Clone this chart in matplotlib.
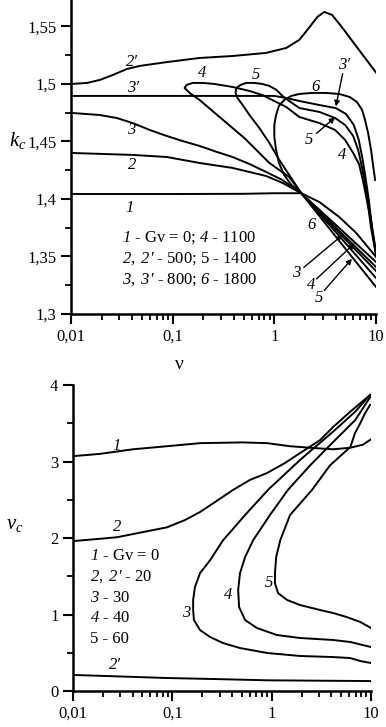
import numpy as np
import matplotlib
matplotlib.use("Agg")
import matplotlib.pyplot as plt
from matplotlib.ticker import FixedLocator, FixedFormatter, NullFormatter

plt.rcParams['font.family'] = ['Liberation Serif', 'DejaVu Serif']
plt.rcParams['mathtext.fontset'] = 'custom'
plt.rcParams['mathtext.rm'] = 'Liberation Serif'
plt.rcParams['mathtext.it'] = 'Liberation Serif:italic'
plt.rcParams['mathtext.sf'] = 'Liberation Serif:italic'

# ---------------- top panel data: k_c vs nu ----------------
nu_1 = [0.01, 0.1, 0.5, 1.0, 1.84, 2.77, 4.35, 6.4, 10.0]
k_1 = [1.4043, 1.4043, 1.4045, 1.405, 1.405, 1.3974, 1.3843, 1.3704, 1.3496]

nu_2 = [0.0102, 0.0405, 0.0873, 0.184, 0.388, 0.83, 1.2, 1.84, 4.35, 10.0]
k_2 = [1.44, 1.4383, 1.4365, 1.4313, 1.427, 1.42, 1.414, 1.405, 1.3748, 1.3452]

nu_3 = [0.0102, 0.0192, 0.0282, 0.0405, 0.0595, 0.0873, 0.125, 0.184, 0.27, 0.388, 0.57, 0.83, 1.2,
        1.84, 4.35, 10.0]
k_3 = [1.4748, 1.473, 1.4704, 1.466, 1.46, 1.4548, 1.4504, 1.4461, 1.441, 1.4365, 1.4304, 1.4235, 1.4165,
       1.405, 1.3722, 1.3409]

nu_2p = [0.01, 0.0144, 0.0192, 0.0258, 0.0354, 0.0475, 0.0873, 0.184, 0.388, 0.83, 1.31, 1.76, 2.2, 2.65,
         3.1, 3.7, 4.6, 6.8, 10.0]
k_2p = [1.5, 1.5009, 1.5035, 1.5078, 1.513, 1.5157, 1.519, 1.5226, 1.5243, 1.527, 1.5313, 1.5383, 1.549,
        1.5583, 1.5626, 1.56, 1.5496, 1.5296, 1.51]

nu_3p = [0.01, 0.1, 0.5, 1.0, 1.31, 1.76, 2.77, 4.03, 5.07, 6.05, 6.77, 7.4, 7.95, 8.5, 9.1, 10.0]
k_3p = [1.4896, 1.4896, 1.4896, 1.4896, 1.4878, 1.4852, 1.4817, 1.479, 1.4739, 1.4643, 1.4513, 1.434,
        1.4165, 1.399, 1.377, 1.3539]

nu_4 = [10.0, 4.35, 1.84, 1.40, 0.894, 0.507, 0.289, 0.184, 0.147, 0.131, 0.137, 0.157, 0.197, 0.258,
        0.388, 0.57, 0.76, 1.31, 1.76, 2.77, 3.96, 4.97, 5.96, 6.81, 7.46, 8.17, 8.94, 10.0]
k_4 = [1.3374, 1.3704, 1.405, 1.4191, 1.4313, 1.453, 1.4713, 1.4861, 1.4922, 1.4965, 1.4991, 1.5009, 1.5009,
       1.50, 1.4974, 1.4939, 1.4904, 1.48, 1.4713, 1.466, 1.46, 1.4513, 1.44, 1.4304, 1.4157, 1.398, 1.3809,
       1.3513]

nu_5 = [10.0, 4.35, 1.84, 1.40, 1.12, 0.894, 0.712, 0.57, 0.488, 0.434, 0.415, 0.424, 0.464, 0.53, 0.636,
        0.76, 0.894, 1.05, 1.2, 1.40, 1.76, 2.77, 3.96, 4.97, 5.96, 6.68, 7.3, 7.8, 8.36, 8.94, 10.0]
k_5 = [1.3313, 1.3678, 1.405, 1.4209, 1.4339, 1.4487, 1.4617, 1.473, 1.4817, 1.4878, 1.4922, 1.4965, 1.4991,
       1.5009, 1.5009, 1.50, 1.4983, 1.4948, 1.4896, 1.4852, 1.4791, 1.4757, 1.4704, 1.4643, 1.4548, 1.4426,
       1.427, 1.4122, 1.3948, 1.3748, 1.3513]

nu_6 = [10.0, 4.35, 1.84, 1.47, 1.25, 1.11, 1.04, 1.0, 1.0, 1.04, 1.11, 1.25, 1.47, 1.76, 2.36, 3.22, 4.35,
        5.5, 6.5, 7.3, 7.8, 8.36, 8.94, 9.35, 9.8]
k_6 = [1.3235, 1.3635, 1.405, 1.4122, 1.4209, 1.4313, 1.4426, 1.4539, 1.4643, 1.473, 1.4809, 1.4861, 1.4896,
       1.4913, 1.4922, 1.4922, 1.4913, 1.4887, 1.4843, 1.4774, 1.4687, 1.4574, 1.4426, 1.4296, 1.4165]

top_curves = [(nu_1, k_1), (nu_2, k_2), (nu_3, k_3), (nu_2p, k_2p), (nu_3p, k_3p),
              (nu_4, k_4), (nu_5, k_5), (nu_6, k_6)]

k_ticks = [1.3, 1.35, 1.4, 1.45, 1.5, 1.55]
k_ticklabels = ['1,3', '1,35', '1,4', '1,45', '1,5', '1,55']
nu_ticks = [0.01, 0.1, 1, 10]
nu_ticklabels = ['0,01', '0,1', '1', '10']

# ---------------- bottom panel data: nu_c vs nu ----------------
vb_1 = [0.01, 0.0187, 0.0402, 0.0886, 0.19, 0.51, 0.9, 1.53, 2.44, 4.15, 6.17, 8.3, 10.0]
vc_1 = [3.07, 3.1, 3.16, 3.2, 3.24, 3.25, 3.24, 3.2, 3.18, 3.16, 3.18, 3.22, 3.29]

vb_2 = [0.01, 0.0187, 0.0277, 0.0473, 0.0886, 0.134, 0.19, 0.269, 0.41, 0.606, 0.9, 1.36, 1.93, 3.07, 4.15,
        6.17, 9.8]
vc_2 = [1.96, 1.99, 2.01, 2.07, 2.14, 2.235, 2.34, 2.47, 2.63, 2.76, 2.85, 2.98, 3.11, 3.28, 3.45, 3.65, 3.87]

vb_2p = [0.01, 0.03, 0.088, 0.3, 0.9, 3.0, 10.0]
vc_2p = [0.21, 0.19, 0.17, 0.155, 0.14, 0.135, 0.13]

vb_3 = [9.8, 6.92, 4.15, 1.93, 0.92, 0.54, 0.324, 0.24, 0.19, 0.169, 0.162, 0.162, 0.165, 0.19, 0.24, 0.324,
        0.48, 0.9, 1.93, 4.15, 6.17, 7.8, 10.0]
vc_3 = [3.87, 3.65, 3.39, 3.02, 2.63, 2.30, 1.97, 1.71, 1.54, 1.359, 1.19, 1.059, 0.928, 0.797, 0.706, 0.627,
        0.562, 0.497, 0.458, 0.444, 0.431, 0.392, 0.366]

vb_4 = [9.8, 6.92, 4.35, 2.44, 1.46, 0.96, 0.65, 0.54, 0.48, 0.46, 0.47, 0.54, 0.71, 1.13, 1.93, 4.15, 6.17,
        10.0]
vc_4 = [3.84, 3.54, 3.28, 2.95, 2.63, 2.30, 1.97, 1.75, 1.54, 1.32, 1.098, 0.928, 0.824, 0.732, 0.693, 0.667,
        0.641, 0.575]

vb_5 = [9.8, 8.7, 7.8, 6.9, 6.2, 3.87, 2.55, 1.53, 1.22, 1.11, 1.08, 1.08, 1.16, 1.43, 1.93, 3.07, 4.15, 5.7,
        7.8, 10.0]
vc_5 = [3.74, 3.63, 3.50, 3.37, 3.19, 2.95, 2.63, 2.30, 1.97, 1.75, 1.54, 1.41, 1.28, 1.19, 1.124, 1.059,
        1.02, 0.967, 0.902, 0.824]

bottom_curves = [(vb_1, vc_1), (vb_2, vc_2), (vb_2p, vc_2p), (vb_3, vc_3), (vb_4, vc_4), (vb_5, vc_5)]

v_ticks = [0, 1, 2, 3, 4]
v_ticklabels = ['0', '1', '2', '3', '4']

LW = 1.4
FS = 12


def style_axes(ax):
    ax.set_xscale('log')
    ax.spines['top'].set_visible(False)
    ax.spines['right'].set_visible(False)
    ax.spines['left'].set_linewidth(1.8)
    ax.spines['bottom'].set_linewidth(1.8)
    ax.tick_params(which='major', direction='out', length=7, width=1.5, labelsize=FS)
    ax.tick_params(which='minor', direction='out', length=4.5, width=1.3)
    ax.xaxis.set_major_locator(FixedLocator(nu_ticks))
    ax.xaxis.set_major_formatter(FixedFormatter(nu_ticklabels))
    minor = [m * 10.0 ** e for e in (-2, -1, 0) for m in range(2, 10)]
    ax.xaxis.set_minor_locator(FixedLocator(minor))
    ax.xaxis.set_minor_formatter(NullFormatter())
    ax.set_xlim(0.01, 10)


def lab(ax, x, y, s, size=FS):
    ax.text(x, y, s, fontsize=size, fontstyle='italic', ha='center', va='center')


def arrow(ax, x0, y0, x1, y1):
    ax.annotate('', xy=(x1, y1), xytext=(x0, y0),
                arrowprops=dict(arrowstyle='-|>', color='black', lw=1.0,
                                mutation_scale=8, shrinkA=0, shrinkB=0))


fig = plt.figure(figsize=(3.86, 7.27), dpi=100)

# ---------------- top ----------------
ax1 = fig.add_axes([0.1839, 0.5681, 0.7902, 0.4319])
for x, y in top_curves:
    ax1.plot(x, y, color='black', lw=LW, solid_joinstyle='round')
style_axes(ax1)
ax1.set_ylim(1.3, 1.573)
ax1.yaxis.set_major_locator(FixedLocator(k_ticks))
ax1.yaxis.set_major_formatter(FixedFormatter(k_ticklabels))
ax1.yaxis.set_minor_locator(FixedLocator([1.325, 1.375, 1.425, 1.475, 1.525]))

lab(ax1, 0.0396, 1.519, "2′")
lab(ax1, 0.0405, 1.4965, "3′")
lab(ax1, 0.197, 1.5096, "4")
lab(ax1, 0.665, 1.5078, "5")
lab(ax1, 2.53, 1.4974, "6")
lab(ax1, 4.87, 1.5165, "3′")
arrow(ax1, 4.7, 1.509, 4.03, 1.4805)
lab(ax1, 2.2, 1.4513, "5")
arrow(ax1, 2.6, 1.457, 3.96, 1.471)
lab(ax1, 4.6, 1.438, "4")
lab(ax1, 0.0387, 1.46, "3")
lab(ax1, 0.0396, 1.4296, "2")
lab(ax1, 0.0379, 1.392, "1")
lab(ax1, 2.3, 1.3774, "6")
lab(ax1, 1.64, 1.3357, "3")
arrow(ax1, 1.95, 1.3405, 4.65, 1.3685)
lab(ax1, 2.3, 1.3252, "4")
arrow(ax1, 2.6, 1.3305, 6.2, 1.3617)
lab(ax1, 2.77, 1.3139, "5")
arrow(ax1, 3.1, 1.3205, 5.8, 1.348)

top_legend = [r"$\mathsf{1}$ - Gv = 0; $\mathsf{4}$ - 1100",
              r"$\mathsf{2,\ 2′}$ - 500; 5 - 1400",
              r"$\mathsf{3,\ 3′}$ - 800; $\mathsf{6}$ - 1800"]
for i, s in enumerate(top_legend):
    ax1.text(0.0316, 1.3661 - i * 0.0183, s, fontsize=FS, ha='left', va='center')

fig.text(0.047, 0.807, r"$k_c$", fontsize=15, ha='center', va='center')
fig.text(0.466, 0.498, "ν", fontsize=14, ha='center', va='center')

# ---------------- bottom ----------------
ax2 = fig.add_axes([0.1891, 0.0495, 0.772, 0.4209])
for x, y in bottom_curves:
    ax2.plot(x, y, color='black', lw=LW, solid_joinstyle='round')
style_axes(ax2)
ax2.set_ylim(0, 4)
ax2.yaxis.set_major_locator(FixedLocator(v_ticks))
ax2.yaxis.set_major_formatter(FixedFormatter(v_ticklabels))
ax2.yaxis.set_minor_locator(FixedLocator([0.5, 1.5, 2.5, 3.5]))

lab(ax2, 0.0277, 3.2, "1")
lab(ax2, 0.0277, 2.14, "2")
lab(ax2, 0.0265, 0.34, "2′")
lab(ax2, 0.137, 1.02, "3")
lab(ax2, 0.363, 1.255, "4")
lab(ax2, 0.94, 1.41, "5")

bottom_legend = [r"$\mathsf{1}$ - Gv = 0",
                 r"$\mathsf{2,\ 2′}$ - 20",
                 r"$\mathsf{3}$ - 30",
                 r"$\mathsf{4}$ - 40",
                 "5 - 60"]
for i, s in enumerate(bottom_legend):
    ax2.text(0.0148, 1.765 - i * 0.272, s, fontsize=FS, ha='left', va='center')

fig.text(0.039, 0.278, r"$v_c$", fontsize=15, ha='center', va='center')

fig.savefig("out.png", dpi=100)
